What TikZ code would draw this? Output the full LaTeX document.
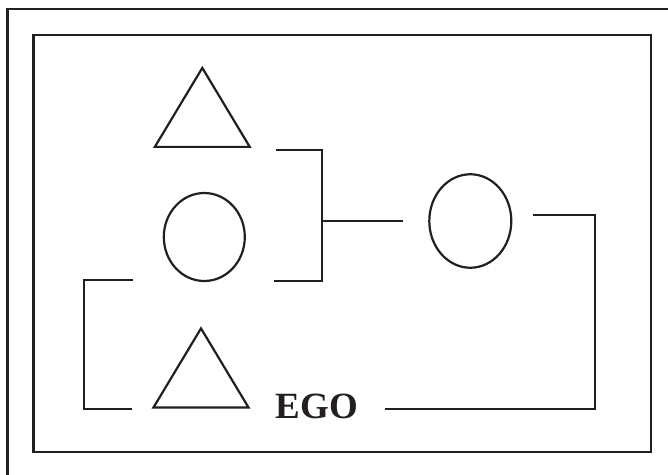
\documentclass[tikz,border=0pt]{standalone}
\usepackage{fontspec}
\setmainfont{Liberation Serif}[BoldFont={Liberation Serif Bold}]
\usepackage{xcolor}
\usetikzlibrary{shapes.geometric, positioning}
\definecolor{ink}{HTML}{231F20}
\tikzstyle{line} = [draw=ink, line width=2.2pt, line join=miter]
\tikzstyle{male} = [isosceles triangle, isosceles triangle apex angle=62, shape border rotate=90, minimum height=79pt, inner sep=0pt, draw=ink, line width=2.2pt]
\tikzstyle{female} = [ellipse, inner sep=0pt, draw=ink, line width=2.2pt]

\begin{document}
\begin{tikzpicture}[x=1pt, y=-1pt]
\useasboundingbox (0,0) rectangle (668,474);

% Frames
\draw [draw=ink, line width=2.4pt] (7.3,480) -- (7.3,8.7) -- (680,8.7);
\draw [draw=ink, line width=2.8pt] (33.3,35) rectangle (651,452);

% Persons
\node (topmale) [male, anchor=south] at (202.3,148) {};
\node (leftfemale) [female, minimum width=81pt, minimum height=88pt] at (204.3,237) {};
\node (rightfemale) [female, minimum width=82pt, minimum height=93.5pt] at (470.3,221) {};
\node (egomale) [male, anchor=south] at (201,408.5) {};
\node (ego) [anchor=base, font=\bfseries\fontsize{37}{37}\selectfont, text=ink, inner sep=0pt] at (317,418.7) {EGO};

% Bracket points
\coordinate (sibtop) at (276,150);
\coordinate (sibtopr) at (321.7,150);
\coordinate (sibbot) at (274,281);
\coordinate (sibbotr) at (321.7,281);
\coordinate (sibmid) at (321.7,220.7);
\coordinate (sibout) at (403.3,220.7);
\coordinate (marr) at (532.7,215.3);
\coordinate (marrr) at (595,215.3);
\coordinate (marrb) at (595,409.3);
\coordinate (marrl) at (385,409.3);
\coordinate (parr) at (132.7,280);
\coordinate (parl) at (84.3,280);
\coordinate (parlb) at (84.3,409.3);
\coordinate (parrb) at (131.7,409.3);

% Relationships
\draw [line] (sibtop) -- (sibtopr) -- (sibbotr) -- (sibbot);
\draw [line] (sibmid) -- (sibout);
\draw [line] (marr) -- (marrr) -- (marrb) -- (marrl);
\draw [line] (parr) -- (parl) -- (parlb) -- (parrb);

\end{tikzpicture}
\end{document}
